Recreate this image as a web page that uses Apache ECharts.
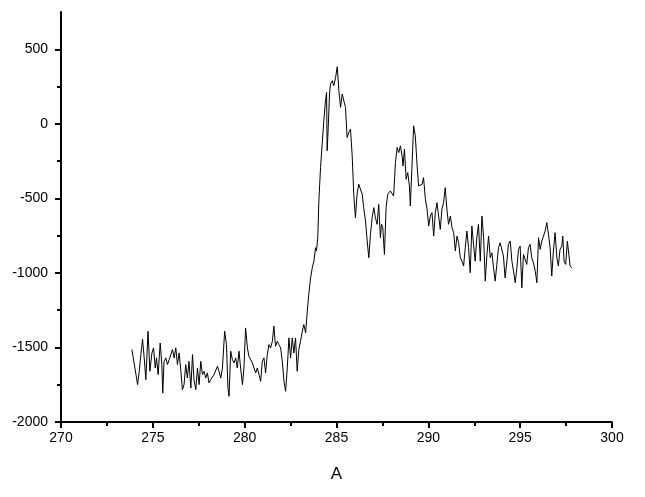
<!DOCTYPE html>
<html>
<head>
<meta charset="utf-8">
<script src="https://cdn.jsdelivr.net/npm/echarts@6/dist/echarts.min.js"></script>
<style>
html,body{margin:0;padding:0;background:#fff;}
#chart{width:645px;height:497px;}
</style>
</head>
<body>
<div id="chart"></div>
<script>
var xValues = [
273.86,273.98,274.08,274.17,274.26,274.35,274.44,274.53,274.62,274.74,274.84,274.95,275.04,275.13,275.20,275.29,275.40,275.49,275.54,275.61,
275.71,275.80,275.89,275.98,276.07,276.16,276.25,276.34,276.43,276.52,276.61,276.70,276.79,276.88,276.97,277.07,277.16,277.24,277.34,277.43,
277.52,277.61,277.70,277.79,277.88,277.97,278.06,278.15,278.24,278.33,278.42,278.52,278.60,
278.70,278.79,278.91,279.01,279.09,279.15,279.24,279.33,279.42,279.51,279.60,279.69,279.78,279.88,279.96,280.05,280.15,280.23,280.33,280.42,
280.51,280.60,280.69,280.78,280.87,280.96,281.05,281.14,281.23,281.32,281.41,281.51,281.59,281.68,281.78,281.86,281.96,282.05,282.14,282.23,
282.32,282.41,282.50,282.59,282.68,282.77,282.86,282.95,283.04,283.14,283.22,283.32,283.41,283.49,283.59,283.68,283.77,283.86,283.91,283.98,
284.04,284.13,284.22,284.31,284.40,284.46,284.49,284.55,284.62,284.67,284.77,284.85,284.95,285.04,285.13,285.22,285.31,285.40,285.49,285.58,
285.67,285.76,285.85,285.94,286.03,286.12,286.21,286.30,286.40,286.48,286.58,286.67,286.76,286.85,286.94,287.03,287.12,287.21,287.30,287.39,
287.45,287.52,287.61,287.70,287.79,287.88,
287.93,288.02,288.11,288.21,288.30,288.39,288.48,288.57,288.62,288.70,288.79,288.88,288.97,289.02,289.11,289.20,289.29,289.39,289.47,289.57,
289.66,289.74,289.84,289.93,290.02,290.11,290.20,290.29,290.38,290.47,290.56,290.65,290.74,290.83,290.92,
291.02,291.10,291.20,291.29,291.38,291.47,291.56,291.65,291.74,291.83,291.92,292.01,292.10,292.19,292.28,292.37,292.46,292.55,292.64,292.73,
292.83,292.92,293.01,293.10,293.19,293.28,293.37,293.46,293.55,293.64,293.73,293.82,293.91,294.01,294.09,294.18,294.28,294.36,294.46,294.55,
294.64,294.73,294.82,294.91,295.00,295.09,295.18,295.27,295.36,295.45,295.54,295.63,295.72,295.82,295.91,296.00,296.09,296.18,296.27,296.36,
296.45,296.54,296.63,296.72,296.81,296.90,297.00,297.08,297.17,297.27,297.32,297.39,297.48,297.57,297.63,297.72,297.81
];
var yValues = [
-1514,-1604,-1613,-1749,-1660,-1546,-1445,-1570,-1716,-1391,-1660,-1537,-1503,-1638,-1570,-1682,-1470,-1615,-1806,-1593,
-1570,-1615,-1581,-1548,-1514,-1570,-1503,-1615,-1537,-1648,-1783,-1749,-1615,-1705,-1593,-1772,-1548,-1716,-1783,-1638,
-1749,-1593,-1682,-1660,-1705,-1671,-1738,-1716,-1705,-1682,-1671,-1626,-1660,
-1705,-1638,-1391,-1481,-1772,-1828,-1525,-1581,-1604,-1570,-1638,-1525,-1638,-1749,-1638,-1369,-1503,-1559,-1570,-1604,
-1638,-1671,-1638,-1682,-1727,-1593,-1570,-1671,-1548,-1481,-1503,-1458,-1357,-1492,-1458,-1481,-1503,-1593,-1727,-1794,
-1638,-1436,-1570,-1436,-1537,-1436,-1660,-1514,-1458,-1391,-1346,-1402,-1257,-1144,-1033,-966,-921,-831,-853,-764,
-517,-294,-136,20,155,210,-181,-25,200,267,289,255,311,383,222,110,200,210,110,-92,
-58,-36,-204,-472,-630,-472,-405,-417,-472,-562,-652,-786,-898,-741,-630,-562,-630,-674,-540,-764,
-674,-697,-876,-562,-472,-461,
-450,-461,-484,-260,-159,-193,-148,-215,-282,-170,-372,-327,-417,-551,-282,-13,-81,-282,-417,-428,
-405,-361,-506,-573,-685,-618,-596,-753,-596,-529,-618,-708,-573,-529,-428,
-585,-674,-618,-697,-730,-853,-753,-798,-898,-921,-954,-831,-719,-831,-999,-685,-808,-921,-764,-674,
-921,-618,-764,-1055,-876,-753,-898,-865,-966,-1055,-943,-831,-798,-798,-887,-1033,-921,-808,-786,-921,
-988,-1066,-966,-842,-820,-1100,-876,-887,-943,-831,-808,-898,-932,-988,-1066,-764,-842,-786,-753,-719,
-663,-741,-831,-1021,-853,-730,-898,-954,-842,-820,-753,-921,-943,-786,-775,-954,-966
];
var yMajorTicks = [-2000,-1500,-1000,-500,0,500];
var yMinorTicks = [-1750,-1250,-750,-250,250];
var xAxisName = 'A';

var seriesData = xValues.map(function(x, i){ return [x, yValues[i]]; });

var chart = echarts.init(document.getElementById('chart'), null, {renderer:'canvas'});
var labelFont = {fontFamily:'Liberation Sans, Arial, sans-serif', fontSize:14, color:'#000'};
function plain(v){ return String(v); }
chart.setOption({
  animation:false,
  backgroundColor:'#fff',
  grid:{left:61, right:33, top:12, bottom:75, containLabel:false},
  xAxis:{
    type:'value', min:270, max:300, interval:5,
    name:xAxisName, nameLocation:'middle', nameGap:44,
    nameTextStyle:{fontFamily:'Liberation Sans, Arial, sans-serif', fontSize:17, color:'#000'},
    axisLine:{show:true, onZero:false, lineStyle:{color:'#000', width:2}},
    axisTick:{show:true, inside:false, length:6, lineStyle:{color:'#000', width:2}},
    minorTick:{show:true, splitNumber:2, length:4, lineStyle:{color:'#000', width:2}},
    axisLabel:Object.assign({margin:9, formatter:plain}, labelFont),
    splitLine:{show:false}
  },
  yAxis:[{
    type:'value', min:-2000, max:750,
    axisLine:{show:true, onZero:false, lineStyle:{color:'#000', width:2}},
    axisTick:{show:true, inside:false, length:6, customValues:yMajorTicks, lineStyle:{color:'#000', width:2}},
    axisLabel:Object.assign({margin:13, customValues:yMajorTicks, formatter:plain}, labelFont),
    splitLine:{show:false}
  },{
    type:'value', min:-2000, max:750, position:'left',
    axisLine:{show:false},
    axisTick:{show:true, inside:false, length:4, customValues:yMinorTicks, lineStyle:{color:'#000', width:2}},
    axisLabel:{show:false},
    splitLine:{show:false}
  }],
  series:[{
    type:'line', data:seriesData, yAxisIndex:0,
    showSymbol:false, symbol:'none',
    lineStyle:{color:'#000', width:1},
    itemStyle:{color:'#000'}
  }]
});
</script>
</body>
</html>
